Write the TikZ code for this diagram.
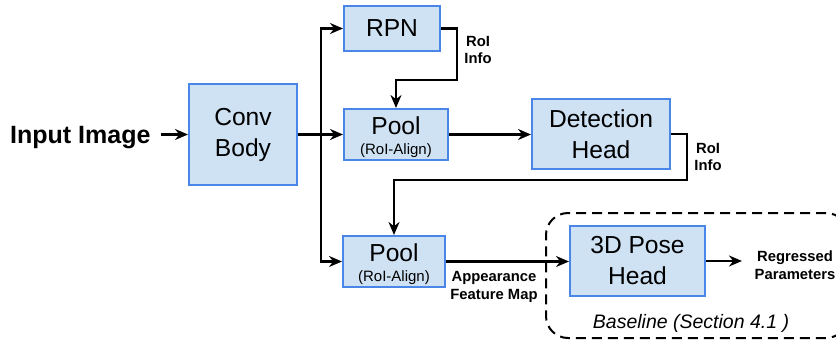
\documentclass[tikz,border=0pt]{standalone}
\usepackage{fontspec}
\setmainfont{Liberation Sans}
\usetikzlibrary{arrows.meta}
\definecolor{boxfill}{HTML}{CFE2F3}
\definecolor{boxline}{HTML}{4A86E8}
\begin{document}
\begin{tikzpicture}[x=1pt,y=-1pt,
  blk/.style={draw=boxline, fill=boxfill, line width=2pt, inner sep=0pt, align=center,
              font=\fontsize{24.6}{31}\selectfont},
  conn/.style={line width=2.3pt, -{Stealth[length=13pt,width=11pt]}},
  lbl/.style={font=\bfseries\fontsize{14.8}{17.5}\selectfont, align=center, inner sep=0pt},
  maintxt/.style={font=\fontsize{24.6}{28}\selectfont, inner sep=0pt},
  subtxt/.style={font=\fontsize{15}{18}\selectfont, inner sep=0pt},
  ]
\useasboundingbox (0,0) rectangle (836,341);

% dashed baseline region
\node[draw, dashed, dash pattern=on 10pt off 6pt, line width=2pt, rounded corners=22pt,
      minimum width=302pt, minimum height=125pt, inner sep=0pt] (base) at (697,275.5) {};
\node[font=\itshape\fontsize{19.5}{22}\selectfont, inner sep=0pt] (basetxt) at (691,323) {Baseline (Section 4.1 )};

% boxes
\node[blk, minimum width=108pt, minimum height=101pt] (conv) at (243,134.5) {Conv\\Body};
\node[blk, minimum width=96pt, minimum height=45pt] (rpn) at (392,28.5) {RPN};
\node[blk, minimum width=104pt, minimum height=51pt] (pool1) at (396,134.5) {};
\node[maintxt] (pool1t) at (396,126) {Pool};
\node[subtxt] (pool1s) at (396,151) {(RoI-Align)};
\node[blk, minimum width=138pt, minimum height=70pt] (det) at (601,134) {Detection\\Head};
\node[blk, minimum width=102pt, minimum height=51pt] (pool2) at (394,261.5) {};
\node[maintxt] (pool2t) at (394,253) {Pool};
\node[subtxt] (pool2s) at (394,278) {(RoI-Align)};
\node[blk, minimum width=135pt, minimum height=70pt] (pose) at (637.5,261) {3D Pose\\Head};

% texts
\node[font=\bfseries\fontsize{25}{30}\selectfont, inner sep=0pt, anchor=base west] (inp) at (10,143) {Input Image};
\node[lbl] (roi1) at (478,50) {RoI\\Info};
\node[lbl] (roi2) at (708,157) {RoI\\Info};
\node[lbl] (app) at (494,287) {Appearance\\Feature Map};
\node[lbl] (reg) at (795,265) {Regressed\\Parameters};

% connectors
\coordinate (spl) at (321,134.5);
\coordinate (r1) at (457,80);
\coordinate (d1) at (687,180);
\coordinate (regend) at (742,261);

\draw[conn] ([xshift=10pt]inp.east |- conv.west) -- (conv.west);
\draw[conn] (conv.east) -- (pool1.west);
\draw[conn] (spl) |- (rpn.west);
\draw[conn] (spl) |- (pool2.west);
\draw[conn] (rpn.east) -| (r1) -| (pool1.north);
\draw[conn] (pool1.east) -- (pool1.east -| det.west);
\draw[conn] (det.east) -| (d1) -| (pool2.north);
\draw[conn] (pool2.east) -- (pool2.east -| pose.west);
\draw[conn] (pose.east) -- (regend);
\end{tikzpicture}
\end{document}
